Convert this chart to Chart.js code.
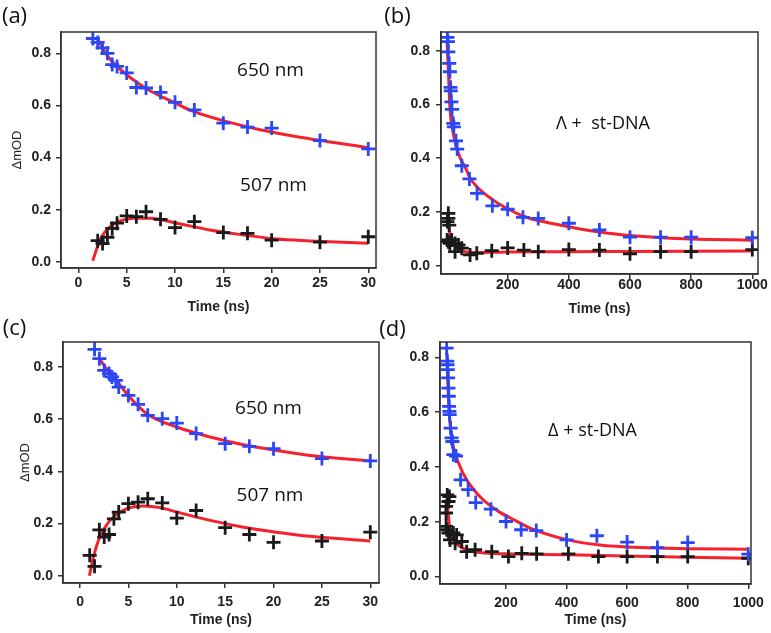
<!DOCTYPE html>
<html><head><meta charset="utf-8">
<script src="https://cdn.jsdelivr.net/npm/chart.js@4"></script>
<style>
html,body{margin:0;padding:0;background:#fff;}
#wrap{position:relative;width:771px;height:633px;overflow:hidden;background:#fff;}
canvas{position:absolute;left:0;top:0;}
.lbl{position:absolute;transform:translate(-50%,-50%);font-family:"Open Sans";color:#111;white-space:pre;line-height:1;}
</style></head><body>
<div id="wrap">
<canvas id="ca" width="771" height="633"></canvas>
<canvas id="cb" width="771" height="633"></canvas>
<canvas id="cc" width="771" height="633"></canvas>
<canvas id="cd" width="771" height="633"></canvas>
<div class="lbl" style="left:14.5px;top:14px;font-size:22px">(a)</div>
<div class="lbl" style="left:397.5px;top:14px;font-size:22px">(b)</div>
<div class="lbl" style="left:14.5px;top:326px;font-size:22px">(c)</div>
<div class="lbl" style="left:392.5px;top:327px;font-size:22px">(d)</div>
<div class="lbl" style="left:270.5px;top:69px;font-size:19px">650 nm</div>
<div class="lbl" style="left:273.5px;top:183.5px;font-size:19px">507 nm</div>
<div class="lbl" style="left:268.5px;top:406.5px;font-size:19px">650 nm</div>
<div class="lbl" style="left:270px;top:493.5px;font-size:19px">507 nm</div>
<div class="lbl" style="left:603px;top:121.5px;font-size:18px">Λ +  st-DNA</div>
<div class="lbl" style="left:592.5px;top:428.5px;font-size:18px">Δ + st-DNA</div>
</div>
<script>
// ---------- Tick labels ----------
const xTicksShort = [0, 5, 10, 15, 20, 25, 30];
const xTicksLong = [200, 400, 600, 800, 1000];
const yTicks = [0.0, 0.2, 0.4, 0.6, 0.8];

// ---------- Panel (a) ----------
const aT650 = [1.5, 2, 2.5, 3, 3.5, 4, 5, 6, 7, 8.5, 10, 12, 15, 17.5, 20, 25, 30];
const a650 = [0.857, 0.842, 0.821, 0.800, 0.757, 0.750, 0.725, 0.669, 0.667, 0.650, 0.612, 0.583, 0.532, 0.517, 0.513, 0.465, 0.433];
const aT507 = [2, 2.5, 3, 3.5, 4, 5, 6, 7, 8.5, 10, 12, 15, 17.5, 20, 25, 30];
const a507 = [0.081, 0.070, 0.094, 0.128, 0.148, 0.176, 0.173, 0.192, 0.163, 0.131, 0.154, 0.112, 0.109, 0.083, 0.075, 0.096];
const aFitT650 = [2.07, 3, 4, 5, 6, 7, 8.45, 10, 11.9, 15.35, 18.8, 22.2, 25.7, 30];
const aFit650 = [0.850, 0.790, 0.750, 0.718, 0.690, 0.665, 0.637, 0.610, 0.577, 0.538, 0.507, 0.483, 0.462, 0.438];
const aFitT507 = [1.49, 1.9, 2.42, 3.28, 4.31, 5.7, 7.4, 10.2, 13.6, 17.1, 20.5, 24, 30];
const aFit507 = [0.004, 0.050, 0.096, 0.135, 0.157, 0.167, 0.167, 0.148, 0.122, 0.103, 0.087, 0.080, 0.071];

// ---------- Panel (b) ----------
const bT650 = [3, 5, 6, 9, 11, 13, 14, 16, 18, 22, 24, 31, 35, 50, 75, 100, 150, 200, 250, 300, 400, 500, 600, 700, 800, 1000];
const b650 = [0.850, 0.834, 0.796, 0.753, 0.722, 0.664, 0.651, 0.610, 0.582, 0.530, 0.517, 0.465, 0.434, 0.372, 0.323, 0.269, 0.223, 0.210, 0.180, 0.176, 0.158, 0.133, 0.106, 0.106, 0.106, 0.104];
const bT507 = [3, 6, 6, 9, 2, 6, 11, 17, 28, 39, 50, 28, 77, 99, 148, 200, 253, 300, 400, 500, 600, 700, 800, 1000];
const b507 = [0.164, 0.195, 0.176, 0.151, 0.096, 0.089, 0.083, 0.096, 0.083, 0.077, 0.065, 0.052, 0.040, 0.046, 0.056, 0.066, 0.058, 0.052, 0.060, 0.058, 0.044, 0.052, 0.052, 0.060];
const bFitT650 = [2, 6, 11, 22, 39, 66, 75, 100, 153, 200, 250, 300, 400, 500, 600, 700, 800, 1000];
const bFit650 = [0.830, 0.728, 0.592, 0.493, 0.418, 0.355, 0.330, 0.293, 0.244, 0.212, 0.185, 0.168, 0.145, 0.125, 0.112, 0.104, 0.099, 0.095];
const bFitT507 = [3, 11, 22, 39, 60, 88, 200, 400, 600, 800, 1000];
const bFit507 = [0.176, 0.120, 0.089, 0.065, 0.052, 0.049, 0.051, 0.052, 0.053, 0.054, 0.055];

// ---------- Panel (c) ----------
const cT650 = [1.5, 2, 2.5, 3, 3.3, 3.7, 4, 5, 6, 7, 8.5, 10, 12, 15, 17.5, 20, 25, 30];
const c650 = [0.868, 0.832, 0.787, 0.775, 0.762, 0.749, 0.723, 0.691, 0.657, 0.615, 0.602, 0.585, 0.545, 0.506, 0.496, 0.487, 0.449, 0.440];
const cT507 = [1, 1.5, 2, 2.5, 3, 3.5, 4, 5, 6, 7, 8.5, 10, 12, 15, 17.5, 20, 25, 30];
const c507 = [0.078, 0.036, 0.176, 0.148, 0.158, 0.218, 0.244, 0.276, 0.282, 0.295, 0.279, 0.221, 0.250, 0.184, 0.158, 0.128, 0.133, 0.167];
const cFitT650 = [2.07, 2.6, 3.45, 4.2, 5, 6.9, 10, 13.45, 16.9, 20.35, 23.8, 30];
const cFit650 = [0.828, 0.800, 0.762, 0.728, 0.690, 0.621, 0.570, 0.532, 0.502, 0.480, 0.461, 0.440];
const cFitT507 = [0.97, 1.38, 1.9, 2.59, 3.45, 4.83, 6.55, 8.28, 10, 13.45, 16.9, 20.3, 23.8, 30];
const cFit507 = [0.000, 0.071, 0.135, 0.186, 0.225, 0.257, 0.267, 0.261, 0.244, 0.212, 0.186, 0.167, 0.151, 0.133];

// ---------- Panel (d) ----------
const dT650 = [4, 6, 7, 8, 9, 10, 11, 12, 13, 14, 17, 20, 23, 26, 35, 50, 75, 100, 150, 200, 250, 300, 400, 500, 600, 700, 800, 1000];
const d650 = [0.834, 0.786, 0.773, 0.755, 0.725, 0.688, 0.658, 0.621, 0.603, 0.591, 0.542, 0.506, 0.493, 0.445, 0.440, 0.353, 0.317, 0.270, 0.246, 0.201, 0.171, 0.168, 0.134, 0.149, 0.126, 0.106, 0.124, 0.082];
const dT507 = [6, 13, 10, 2, 2, 2, 4, 10, 26, 37, 15, 32, 54, 70, 98, 153, 208, 252, 301, 406, 505, 600, 700, 800, 1000];
const d507 = [0.298, 0.292, 0.274, 0.256, 0.232, 0.183, 0.171, 0.159, 0.159, 0.152, 0.134, 0.122, 0.128, 0.091, 0.098, 0.091, 0.073, 0.085, 0.083, 0.083, 0.073, 0.073, 0.073, 0.073, 0.067];
const dFitT650 = [4.3, 9.6, 15, 26, 45, 70, 120, 175, 230, 290, 400, 510, 600, 700, 800, 1000];
const dFit650 = [0.815, 0.665, 0.560, 0.475, 0.410, 0.353, 0.285, 0.238, 0.205, 0.172, 0.135, 0.115, 0.108, 0.104, 0.102, 0.100];
const dFitT507 = [4.3, 10, 15, 26, 48, 70, 114, 202, 400, 554, 800, 1000];
const dFit507 = [0.280, 0.219, 0.171, 0.134, 0.110, 0.098, 0.088, 0.083, 0.080, 0.076, 0.071, 0.067];

// ---------- Styles ----------
const BLUE = '#2a46f5', BLACK = '#1a1a1a', RED = '#f5222d', AXIS = '#333333';
const W = 771, H = 633;

function pts(xs, ys) { return xs.map((x, i) => ({ x: x, y: ys[i] })); }
function marks(xs, ys, color) {
  return { data: pts(xs, ys), showLine: false, pointStyle: 'cross', pointRadius: 7, pointHoverRadius: 7,
           borderColor: color, backgroundColor: color, borderWidth: 2.8 };
}
function fit(xs, ys) {
  return { data: pts(xs, ys), showLine: true, pointRadius: 0, pointHoverRadius: 0, borderColor: RED,
           backgroundColor: RED, borderWidth: 3, tension: 0.4, cubicInterpolationMode: 'monotone', fill: false };
}
const framePlugin = {
  id: 'frame',
  afterDraw(chart) {
    const { ctx, chartArea: a } = chart;
    ctx.save();
    ctx.strokeStyle = AXIS; ctx.lineWidth = 1.5;
    ctx.strokeRect(a.left, a.top, a.right - a.left, a.bottom - a.top);
    ctx.restore();
  }
};

function panel(id, p, datasets) {
  const tickFont = { family: 'Liberation Sans', size: 14, weight: 'bold' };
  new Chart(document.getElementById(id), {
    type: 'scatter',
    data: { datasets: datasets },
    options: {
      responsive: false, animation: false, devicePixelRatio: 1,
      layout: { padding: { left: p.l - p.yW, right: W - p.r, top: p.t, bottom: H - p.b - p.xH } },
      plugins: { legend: { display: false }, tooltip: { enabled: false } },
      scales: {
        x: {
          type: 'linear', min: p.xmin, max: p.xmax,
          afterBuildTicks: s => { s.ticks = p.xticks.map(v => ({ value: v })); },
          afterFit: s => { s.height = p.xH; },
          ticks: { font: tickFont, color: '#222', padding: p.xPad, maxRotation: 0, autoSkip: false, callback: v => String(v) },
          grid: { display: true, drawOnChartArea: false, drawTicks: true, tickLength: 5, color: AXIS, lineWidth: 1.5 },
          border: { display: true, color: AXIS, width: 1.5 },
          title: { display: true, text: 'Time (ns)', color: '#222', padding: 0,
                   font: { family: 'Liberation Sans', size: 14, weight: 'bold' } }
        },
        y: {
          type: 'linear', min: p.ymin, max: p.ymax,
          afterBuildTicks: s => { s.ticks = yTicks.map(v => ({ value: v })); },
          afterFit: s => { s.width = p.yW; },
          ticks: { font: tickFont, color: '#222', padding: p.yPad, callback: v => v.toFixed(1), autoSkip: false },
          grid: { display: true, drawOnChartArea: false, drawTicks: true, tickLength: 5, color: AXIS, lineWidth: 1.5 },
          border: { display: true, color: AXIS, width: 1.5 },
          title: { display: p.yTitle, text: 'ΔmOD', color: '#222', padding: { top: p.yTitlePad, bottom: 0 },
                   font: { family: 'Liberation Sans', size: 13, weight: 'normal' } }
        }
      }
    },
    plugins: [framePlugin]
  });
}

panel('ca', { l: 61, r: 376, t: 32, b: 268, yW: 61, xH: 48, xPad: 2, yPad: 5, yTitle: true, yTitlePad: 9.7,
  xmin: -1.8, xmax: 30.8, ymin: -0.024, ymax: 0.882, xticks: xTicksShort },
  [marks(aT650, a650, BLUE), marks(aT507, a507, BLACK), fit(aFitT650, aFit650), fit(aFitT507, aFit507)]);

panel('cb', { l: 441, r: 758, t: 32, b: 274, yW: 50, xH: 44, xPad: -2, yPad: 6, yTitle: false, yTitlePad: 0,
  xmin: -18, xmax: 1018.6, ymin: -0.031, ymax: 0.87, xticks: xTicksLong },
  [marks(bT650, b650, BLUE), marks(bT507, b507, BLACK), fit(bFitT650, bFit650), fit(bFitT507, bFit507)]);

panel('cc', { l: 63, r: 379, t: 342, b: 583, yW: 50, xH: 46, xPad: 6, yPad: 5, yTitle: true, yTitlePad: 4.2,
  xmin: -1.76, xmax: 30.9, ymin: -0.028, ymax: 0.896, xticks: xTicksShort },
  [marks(cT650, c650, BLUE), marks(cT507, c507, BLACK), fit(cFitT650, cFit650), fit(cFitT507, cFit507)]);

panel('cd', { l: 440, r: 751, t: 342, b: 584, yW: 50, xH: 45, xPad: 6, yPad: 6, yTitle: false, yTitlePad: 0,
  xmin: -18, xmax: 1009, ymin: -0.027, ymax: 0.856, xticks: xTicksLong },
  [marks(dT650, d650, BLUE), marks(dT507, d507, BLACK), fit(dFitT650, dFit650), fit(dFitT507, dFit507)]);
</script>
</body></html>
